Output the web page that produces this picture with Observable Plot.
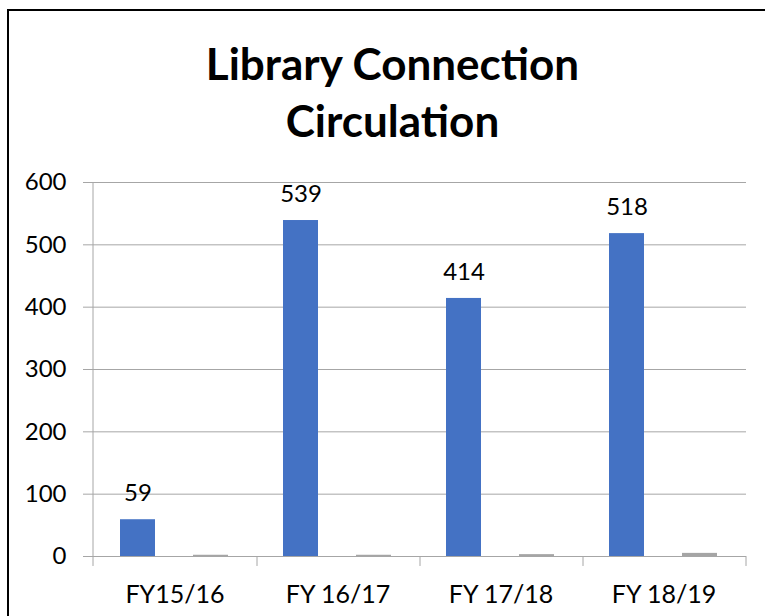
<!DOCTYPE html>
<html><head><meta charset="utf-8">
<script src="https://cdn.jsdelivr.net/npm/d3@7"></script>
<script src="https://cdn.jsdelivr.net/npm/@observablehq/plot@0.6"></script>
<style>
body{margin:0;background:#fff;}
#wrap{position:relative;width:765px;height:616px;overflow:hidden;background:#fff;font-family:Lato,sans-serif;}
#frame{position:absolute;left:7px;top:9px;width:900px;height:900px;border:2px solid #000;box-sizing:border-box;pointer-events:none}
#title{position:absolute;left:10px;top:35px;width:765px;text-align:center;font-weight:bold;font-size:44px;line-height:57px;color:#000;}
</style></head>
<body><div id="wrap"><div id="chart"></div><div id="frame"></div><div id="title">Library Connection<br>Circulation</div></div>
<script>
const years = ["FY15/16", "FY 16/17", "FY 17/18", "FY 18/19"];
const circulation = [59, 539, 414, 518];
const other = [2, 2, 3, 5];
const yTicks = [0, 100, 200, 300, 400, 500, 600];

const data1 = years.map((y, i) => ({year: y, value: circulation[i]}));
const data2 = years.map((y, i) => ({year: y, value: other[i]}));
const gridColor = "#a6a6a6";

const plot = Plot.plot({
  width: 765, height: 616,
  marginLeft: 92, marginRight: 19, marginTop: 182, marginBottom: 60,
  style: {fontFamily: "Lato, sans-serif", background: "transparent", color: "#000"},
  x: {domain: years, padding: 0, label: null},
  y: {domain: [0, 600], label: null},
  marks: [
    Plot.gridY(yTicks, {stroke: gridColor, strokeOpacity: 1}),
    Plot.barY(data1, {x: "year", y: "value", fill: "#4472C4", insetLeft: 27, insetRight: 101}),
    Plot.barY(data2, {x: "year", y: "value", fill: "#A5A5A5", insetLeft: 100, insetRight: 28}),
    Plot.ruleY([0], {stroke: gridColor}),
    Plot.ruleX(years, {x: d => d, dx: 82, y1: 0, y2: -16, stroke: gridColor}),
    Plot.ruleX([years[0]], {x: d => d, dx: -82, y1: -16, y2: 600, stroke: gridColor}),
    Plot.text(data1, {x: "year", y: "value", text: d => String(d.value), dx: -37, dy: -26, fontSize: 24, fill: "#000"}),
    Plot.axisY(yTicks, {tickSize: 9, tickPadding: 17, fontSize: 24, stroke: gridColor, fill: "#000", label: null}),
    Plot.axisX({tickSize: 0, tickPadding: 29, fontSize: 25, fill: "#000", label: null})
  ]
});
document.getElementById("chart").appendChild(plot);
</script>
</body></html>
